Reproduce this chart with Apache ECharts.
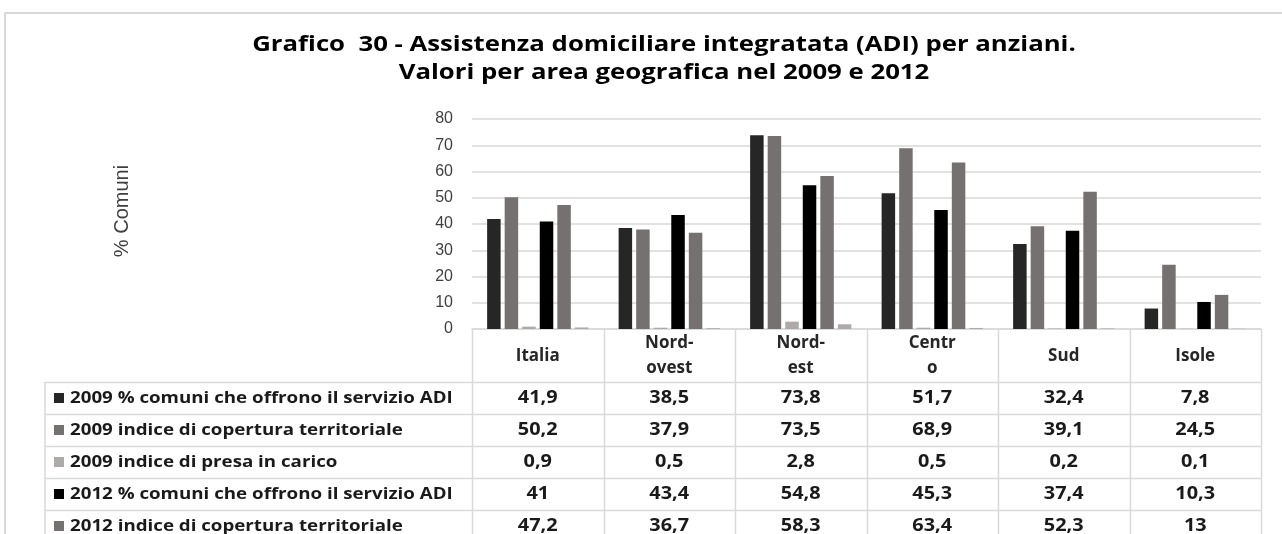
<!DOCTYPE html>
<html>
<head>
<meta charset="utf-8">
<script src="https://cdn.jsdelivr.net/npm/echarts@6/dist/echarts.min.js"></script>
<style>
  html, body { margin: 0; padding: 0; background: #fff; }
  #chart { width: 1282px; height: 534px; }
</style>
</head>
<body>
<div id="chart"></div>
<script>
// aree geografiche (intestazioni della tabella)
const areas = ['Italia', 'Nord-\novest', 'Nord-\nest', 'Centr\no', 'Sud', 'Isole']
const yTicks = [0, 10, 20, 30, 40, 50, 60, 70, 80]

const comuni2009 = [41.9, 38.5, 73.8, 51.7, 32.4, 7.8]
const copertura2009 = [50.2, 37.9, 73.5, 68.9, 39.1, 24.5]
const presa2009 = [0.9, 0.5, 2.8, 0.5, 0.2, 0.1]
const comuni2012 = [41, 43.4, 54.8, 45.3, 37.4, 10.3]
const copertura2012 = [47.2, 36.7, 58.3, 63.4, 52.3, 13]
// riga tagliata nell'immagine, stimata dalle barre
const presa2012 = [0.6, 0.3, 1.8, 0.4, 0.2, 0.1]

const seriesNames = [
  '2009 % comuni che offrono il servizio ADI',
  '2009 indice di copertura territoriale',
  '2009 indice di presa in carico',
  '2012 % comuni che offrono il servizio ADI',
  '2012 indice di copertura territoriale',
  '2012 indice di presa in carico'
]
const seriesData = [comuni2009, copertura2009, presa2009, comuni2012, copertura2012, presa2012]
const seriesColors = ['#262626', '#767171', '#aeaaaa', '#000000', '#767171', '#aeaaaa']
// righe visibili della tabella dati
const tableRows = 5

const titleText = 'Grafico  30 - Assistenza domiciliare integratata (ADI) per anziani.\nValori per area geografica nel 2009 e 2012'

const font = '"Open Sans", "Noto Sans", sans-serif'
const arial = '"Liberation Sans", Arial, sans-serif'
const lineColor = '#d9d9d9'
// il grafico originale è leggermente allargato in orizzontale
const stretch = 1.17

const dom = document.getElementById('chart')
const chart = echarts.init(dom, null, { renderer: 'canvas' })

const option = {
  animation: false,
  backgroundColor: '#fff',
  grid: {
    left: 472,
    right: 21,
    top: 119,
    bottom: 205
  },
  xAxis: {
    type: 'category',
    data: areas,
    axisLine: { show: true, lineStyle: { color: lineColor, width: 1.5 } },
    axisTick: { show: false },
    axisLabel: {
      margin: 27,
      verticalAlign: 'middle',
      fontFamily: font,
      fontSize: 17,
      fontWeight: 'bold',
      color: '#262626',
      lineHeight: 25
    }
  },
  yAxis: {
    type: 'value',
    min: yTicks[0],
    max: yTicks[yTicks.length - 1],
    interval: yTicks[1] - yTicks[0],
    axisLine: { show: false },
    axisTick: { show: false },
    splitLine: { lineStyle: { color: lineColor, width: 1.5 } },
    axisLabel: {
      margin: 19,
      fontFamily: arial,
      fontSize: 16,
      color: '#404040'
    }
  },
  series: seriesNames.map((name, i) => ({
    name: name,
    type: 'bar',
    data: seriesData[i],
    itemStyle: { color: seriesColors[i] },
    barGap: '30%',
    barCategoryGap: '23%'
  }))
}

chart.setOption(option)

// titolo, tabella dati e cornice, posizionati dalle scale del grafico
function drawTable () {
  const x0 = chart.convertToPixel({ xAxisIndex: 0 }, areas[0])
  const x1 = chart.convertToPixel({ xAxisIndex: 0 }, areas[1])
  const band = x1 - x0
  const left = x0 - band / 2
  const right = left + band * areas.length
  const axisY = chart.convertToPixel({ yAxisIndex: 0 }, 0)
  const headerBottom = axisY + 53
  const rowH = 32
  const labelLeft = 45
  const elements = []

  // cornice esterna del grafico
  elements.push({
    type: 'polyline',
    shape: { points: [[5, 540], [5, 13], [1290, 13]] },
    style: { stroke: lineColor, lineWidth: 2, fill: null }
  })

  elements.push({
    type: 'text',
    x: 664,
    y: 59,
    scaleX: stretch,
    style: {
      text: titleText,
      fontFamily: font,
      fontSize: 22,
      fontWeight: 'bold',
      fill: '#000',
      lineHeight: 28,
      align: 'center',
      verticalAlign: 'middle'
    }
  })

  // linee verticali delle colonne
  for (let c = 0; c <= areas.length; c++) {
    const x = Math.round(left + band * c) + 0.5
    elements.push({
      type: 'line',
      shape: { x1: x, y1: axisY, x2: x, y2: 540 },
      style: { stroke: lineColor, lineWidth: 1.5 }
    })
  }
  elements.push({
    type: 'line',
    shape: { x1: labelLeft, y1: headerBottom, x2: labelLeft, y2: 540 },
    style: { stroke: lineColor, lineWidth: 1.5 }
  })

  for (let r = 0; r <= tableRows; r++) {
    const y = Math.round(headerBottom + rowH * r) + 0.5
    elements.push({
      type: 'line',
      shape: { x1: labelLeft, y1: y, x2: right, y2: y },
      style: { stroke: lineColor, lineWidth: 1.5 }
    })
  }

  for (let r = 0; r < tableRows; r++) {
    const cy = headerBottom + rowH * r + rowH / 2
    elements.push({
      type: 'rect',
      shape: { x: 54, y: cy - 5, width: 10, height: 10 },
      style: { fill: seriesColors[r] }
    })
    elements.push({
      type: 'text',
      x: 70,
      y: cy,
      scaleX: stretch,
      style: {
        text: seriesNames[r],
        fontFamily: font,
        fontSize: 16,
        fontWeight: 'bold',
        fill: '#1a1a1a',
        verticalAlign: 'middle'
      }
    })
    seriesData[r].forEach((v, c) => {
      elements.push({
        type: 'text',
        x: left + band * c + band / 2,
        y: cy,
        scaleX: stretch,
        style: {
          text: String(v).replace('.', ','),
          fontFamily: font,
          fontSize: 17,
          fontWeight: 'bold',
          fill: '#1a1a1a',
          align: 'center',
          verticalAlign: 'middle'
        }
      })
    })
  }

  // titolo asse y
  elements.push({
    type: 'text',
    x: 122,
    y: 211,
    rotation: Math.PI / 2,
    style: {
      text: '% Comuni',
      fontFamily: arial,
      fontSize: 20,
      fill: '#404040',
      align: 'center',
      verticalAlign: 'middle'
    }
  })

  chart.setOption({ graphic: { elements: elements } })
}

drawTable()
window.addEventListener('resize', () => {
  chart.resize()
  drawTable()
})
</script>
</body>
</html>
